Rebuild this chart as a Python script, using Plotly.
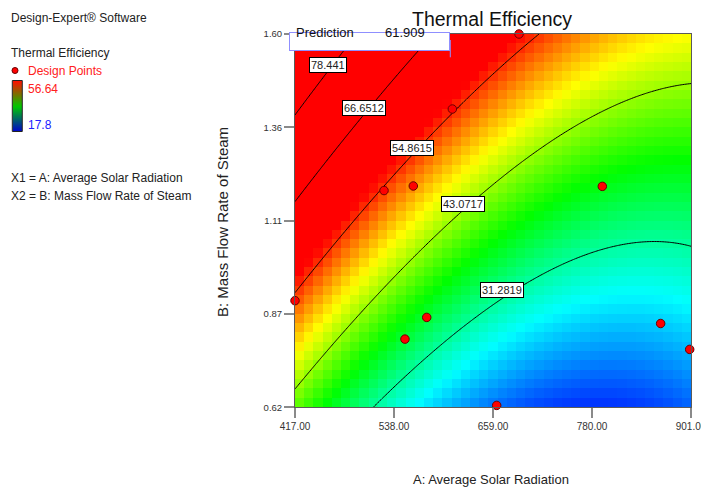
import numpy as np
import plotly.graph_objects as go

# ---------------- data ----------------
A_range = [417, 901]            # A: Average Solar Radiation
B_range = [0.62, 1.60]          # B: Mass Flow Rate of Steam
x_tickvals = [417, 538, 659, 780, 901]
x_ticktext = ['417.00', '538.00', '659.00', '780.00', '901.00']
y_tickvals = [0.62, 0.865, 1.11, 1.355, 1.60]
y_ticktext = ['0.62', '0.87', '1.11', '1.36', '1.60']

# quadratic response-surface coefficients (coded units):
# intercept, A, B, AB, A^2, B^2
coef = [39.423, -15.566, 18.639, -5.884, 9.149, 1.295]

contour_levels = [31.2819, 43.0717, 54.8615, 66.6512, 78.441]
label_A = [670.0, 622.3, 560.6, 501.3, 457.9]
label_B = [0.927, 1.154, 1.300, 1.405, 1.5186]

design_A = [690.8, 609.3, 525.8, 561.6, 792.6, 417.0, 578.0, 551.4, 663.5, 863.9, 899.4]
design_B = [1.600, 1.403, 1.189, 1.201, 1.200, 0.900, 0.856, 0.799, 0.625, 0.840, 0.772]

color_min, color_max = 17.8, 56.64
prediction_value = '61.909'

# ---------------- layout helpers ----------------
W, H = 701, 487
PX0, PX1, PY0, PY1 = 295, 691, 407.3, 34   # plot box in pixels
def xp(px): return px / W
def yp(py): return 1 - py / H

A_mid = (A_range[0] + A_range[1]) / 2; A_half = (A_range[1] - A_range[0]) / 2
B_mid = (B_range[0] + B_range[1]) / 2; B_half = (B_range[1] - B_range[0]) / 2

def model(Av, Bv):
    a = (Av - A_mid) / A_half
    b = (Bv - B_mid) / B_half
    c = coef
    return c[0] + c[1]*a + c[2]*b + c[3]*a*b + c[4]*a*a + c[5]*b*b

# coarse cell grid (pixelated heat map like Design-Expert)
nx, ny = 43, 40
cx = A_range[0] + (np.arange(nx) + 0.5) * (A_range[1] - A_range[0]) / nx
cy = B_range[0] + (np.arange(ny) + 0.5) * (B_range[1] - B_range[0]) / ny
CX, CY = np.meshgrid(cx, cy)
Zcells = model(CX, CY)

# fine grid for contour lines
fx = np.linspace(A_range[0], A_range[1], 241)
fy = np.linspace(B_range[0], B_range[1], 241)
FX, FY = np.meshgrid(fx, fy)
Zfine = model(FX, FY)

cs = [[0, 'rgb(0,0,255)'], [0.25, 'rgb(0,255,255)'], [0.5, 'rgb(0,255,0)'],
      [0.75, 'rgb(255,255,0)'], [1, 'rgb(255,0,0)']]

fig = go.Figure()
fig.add_trace(go.Heatmap(x=cx, y=cy, z=Zcells, colorscale=cs, zmin=color_min, zmax=color_max,
                         showscale=False, zsmooth=False, hoverinfo='skip'))
step = contour_levels[1] - contour_levels[0]
fig.add_trace(go.Contour(x=fx, y=fy, z=Zfine, showscale=False, hoverinfo='skip',
                         contours=dict(coloring='none', start=contour_levels[0],
                                       end=contour_levels[-1] + step * 0.01, size=step),
                         line=dict(color='black', width=1)))
fig.add_trace(go.Scatter(x=design_A, y=design_B, mode='markers', cliponaxis=False,
                         marker=dict(size=8.5, color='#ff0000', line=dict(width=1, color='#6a0000'))))

# mini colour bar on the left
fig.add_trace(go.Heatmap(x=[0], y=[0, 1], z=[[color_min], [color_max]], xaxis='x2', yaxis='y2',
                         colorscale=[[0, '#0000d0'], [0.5, '#00c800'], [1, '#ff1000']],
                         zsmooth='best', showscale=False, hoverinfo='skip'))

ann = []
# contour labels
for lv, la, lb in zip(contour_levels, label_A, label_B):
    ann.append(dict(x=la, y=lb, xref='x', yref='y', text=f'{lv:.6g}', showarrow=False,
                    font=dict(family='Arial, Liberation Sans', size=11, color='#222'),
                    bgcolor='white', bordercolor='black', borderwidth=1, borderpad=1))

F = 'Arial, Liberation Sans'
def txt(t, px, py, size=12, color='#222', anchor='left', angle=0):
    ann.append(dict(x=xp(px), y=yp(py), xref='paper', yref='paper', text=t, showarrow=False,
                    xanchor=anchor, yanchor='middle', textangle=angle,
                    font=dict(family=F, size=size, color=color)))

# title
txt('Thermal Efficiency', 492, 19.5, size=19.5, color='#111', anchor='center')
# prediction flag box (drawn above the title)
ann.append(dict(x=xp(369.8), y=yp(31.7), xref='paper', yref='paper', text=' ', showarrow=False,
                width=159, height=17, bgcolor='white', bordercolor='#8f8fff', borderwidth=1, borderpad=0))
txt('Prediction', 293.5, 32.5, size=13, color='#111')
txt(prediction_value, 383.5, 32.5, size=13, color='#111')

# left legend text
txt('Design-Expert® Software', 8.5, 18, size=12)
txt('Thermal Efficiency', 8.5, 53.5, size=12)
txt('Design Points', 25.5, 71.5, size=12, color='#ff2020')
txt(f'{color_max:g}', 25.5, 89, size=12, color='#ff2020')
txt(f'{color_min:g}', 25.5, 124.5, size=12, color='#2020ff')
txt('X1 = A: Average Solar Radiation', 8.5, 177.5, size=12)
txt('X2 = B: Mass Flow Rate of Steam', 8.5, 195.5, size=12)

# axis titles
txt('A: Average Solar Radiation', 491, 479, size=13, anchor='center')
txt('B: Mass Flow Rate of Steam', 222, 222, size=15, anchor='center', angle=-90)

shapes = [
    # mini colour bar frame
    dict(type='rect', xref='paper', yref='paper', x0=xp(12.3), x1=xp(22.3), y0=yp(131.5), y1=yp(80.5),
         line=dict(color='#222', width=1)),
    # design point legend dot
    dict(type='circle', xref='paper', yref='paper', x0=xp(12), x1=xp(18), y0=yp(73.5), y1=yp(67.5),
         fillcolor='#ff0000', line=dict(color='#6a0000', width=1)),
    # prediction flag stub
    dict(type='line', xref='paper', yref='paper', x0=xp(450.3), x1=xp(450.3), y0=yp(40), y1=yp(57.3),
         line=dict(color='#8f8fff', width=1)),
]

axis_common = dict(showgrid=False, zeroline=False, showline=True, linecolor='#5a5a5a', linewidth=1,
                   mirror=True, ticks='outside', ticklen=10, tickwidth=2, tickcolor='#8a8a8a',
                   ticklabeloverflow='allow')

fig.update_layout(
    template='none', width=W, height=H, margin=dict(l=0, r=0, t=0, b=0),
    paper_bgcolor='white', plot_bgcolor='white', showlegend=False,
    xaxis=dict(domain=[xp(PX0), xp(PX1)], range=A_range, tickvals=x_tickvals, ticktext=x_ticktext,
               tickfont=dict(family=F, size=10, color='#333'), automargin=False, **axis_common),
    yaxis=dict(domain=[yp(PY0), yp(PY1)], range=B_range, tickvals=y_tickvals, ticktext=y_ticktext,
               tickfont=dict(family=F, size=9.5, color='#333'), automargin=False, **axis_common),
    xaxis2=dict(domain=[xp(12.3), xp(22.3)], range=[-0.5, 0.5], visible=False, fixedrange=True),
    yaxis2=dict(domain=[yp(131.5), yp(80.5)], range=[0, 1], visible=False, fixedrange=True),
    annotations=ann, shapes=shapes,
)
fig.write_html('out.html', config={'displayModeBar': False},
               post_script="document.body.style.margin='0';document.body.style.overflow='hidden';")
